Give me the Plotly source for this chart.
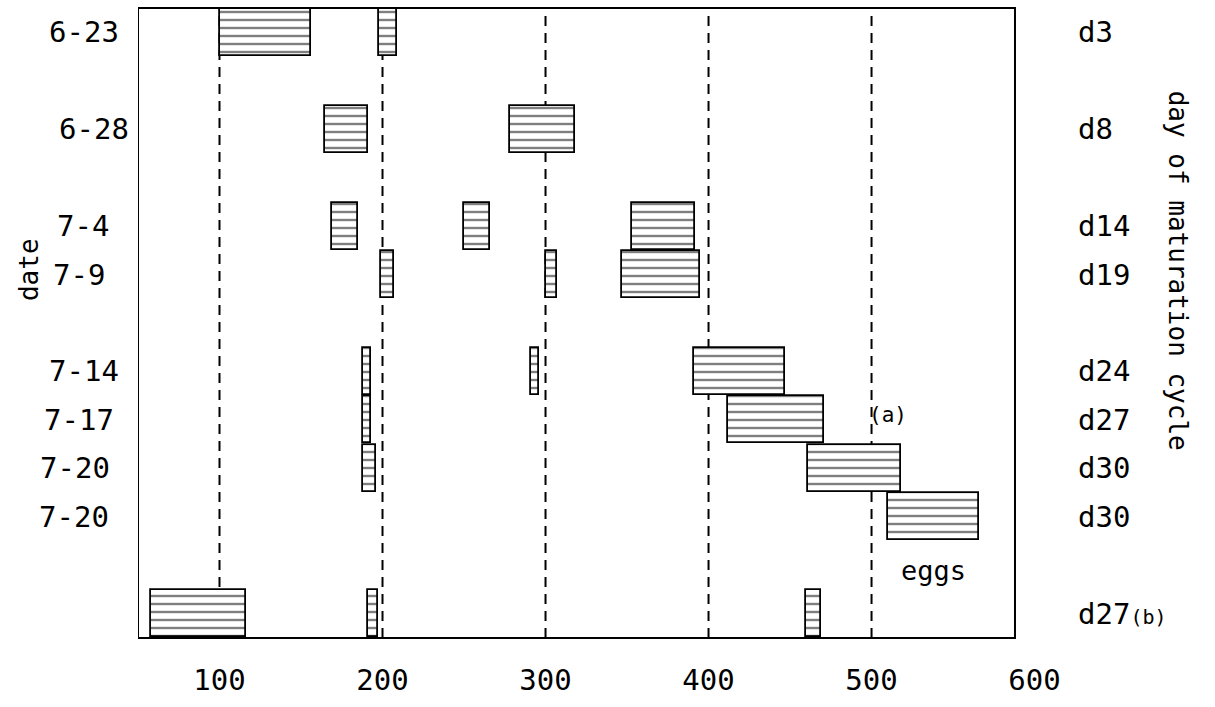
import plotly.graph_objects as go

# Row positions on the vertical axis (top to bottom), with their labels
row_pos = [0, 2, 4, 5, 7, 8, 9, 10, 12]
dates = ["6-23", "6-28", "7-4", "7-9", "7-14", "7-17", "7-20", "7-20", ""]
days = ["d3", "d8", "d14", "d19", "d24", "d27", "d30", "d30",
        "d27<span style='font-size:20px'>(b)</span>"]

# Striped bars: row, start, end
bar_row = [0, 0,
           2, 2,
           4, 4, 4,
           5, 5, 5,
           7, 7, 7,
           8, 8,
           9, 9,
           10,
           12, 12, 12]
bar_start = [100, 198,
             165, 278,
             169, 250, 353,
             199, 300, 347,
             188, 291, 391,
             188, 412,
             188, 461,
             510,
             58, 191, 460]
bar_end = [156, 209,
           191, 318,
           185, 266, 392,
           207, 307, 395,
           193, 296, 447,
           193, 471,
           196, 518,
           566,
           116, 197, 469]

x_ticks = [100, 200, 300, 400, 500, 600]
ref_lines = [100, 200, 300, 400, 500]

# Plot geometry (pixels)
W, H = 1215, 707
L, R, T, B = 138, 156, 8, 69
PW = W - L - R


def px_to_paper(px):
    return (px - L) / PW


# Right edge of each date label, in pixels
date_right_px = [121, 131, 111, 107, 121, 116, 112, 111]

FONT = "DejaVu Sans Mono"

fig = go.Figure()

fig.add_trace(go.Bar(
    orientation="h",
    y=bar_row,
    base=bar_start,
    x=[e - s for s, e in zip(bar_start, bar_end)],
    width=0.97,
    marker=dict(
        color="white",
        line=dict(color="black", width=1.8),
        pattern=dict(shape="-", size=8, solidity=0.3,
                     fgcolor="black", bgcolor="white"),
    ),
    showlegend=False,
    hoverinfo="skip",
))

# Dashed reference lines
for v in ref_lines:
    fig.add_shape(type="line", xref="x", yref="y domain",
                  x0=v, x1=v, y0=0, y1=1, layer="below",
                  line=dict(color="black", width=2, dash="10px,7px"))

# Plot frame
fig.add_shape(type="rect", xref="x", yref="y domain",
              x0=50, x1=588, y0=0, y1=1,
              line=dict(color="black", width=2))

# Left-hand labels: sampling date
for p, d, rx in zip(row_pos, dates, date_right_px):
    if d:
        fig.add_annotation(text=d, xref="paper", yref="y", x=px_to_paper(rx), y=p,
                           xanchor="right", yanchor="middle", showarrow=False,
                           font=dict(family=FONT, size=29, color="black"))

# Right-hand labels: day of maturation cycle
for p, d in zip(row_pos, days):
    fig.add_annotation(text=d, xref="paper", yref="y", x=px_to_paper(1076), y=p,
                       xanchor="left", yanchor="middle", showarrow=False,
                       font=dict(family=FONT, size=29, color="black"))

fig.add_annotation(text="date", xref="paper", yref="paper", x=px_to_paper(29),
                   y=0.584, xanchor="center", yanchor="middle",
                   textangle=-90, showarrow=False,
                   font=dict(family=FONT, size=26, color="black"))
fig.add_annotation(text="day of maturation cycle", xref="paper", yref="paper",
                   x=px_to_paper(1178), y=0.583, xanchor="center", yanchor="middle",
                   textangle=90, showarrow=False,
                   font=dict(family=FONT, size=26, color="black"))
fig.add_annotation(text="(a)", xref="x", yref="y", x=510, y=7.9,
                   showarrow=False, font=dict(family=FONT, size=21, color="black"))
fig.add_annotation(text="eggs", xref="x", yref="y", x=538, y=11.1,
                   showarrow=False, font=dict(family=FONT, size=27, color="black"))

fig.update_layout(
    width=W, height=H,
    margin=dict(l=L, r=R, t=T, b=B),
    paper_bgcolor="white", plot_bgcolor="white",
    bargap=0,
    font=dict(family=FONT, size=29, color="black"),
    xaxis=dict(range=[50, 615], tickvals=x_ticks, showgrid=False,
               zeroline=False, showline=False, ticks="",
               ticklabelstandoff=22, tickfont=dict(family=FONT, size=29)),
    yaxis=dict(range=[12.5, -0.5], showgrid=False, zeroline=False,
               showline=False, ticks="", showticklabels=False),
)

fig.write_html("out.html")
